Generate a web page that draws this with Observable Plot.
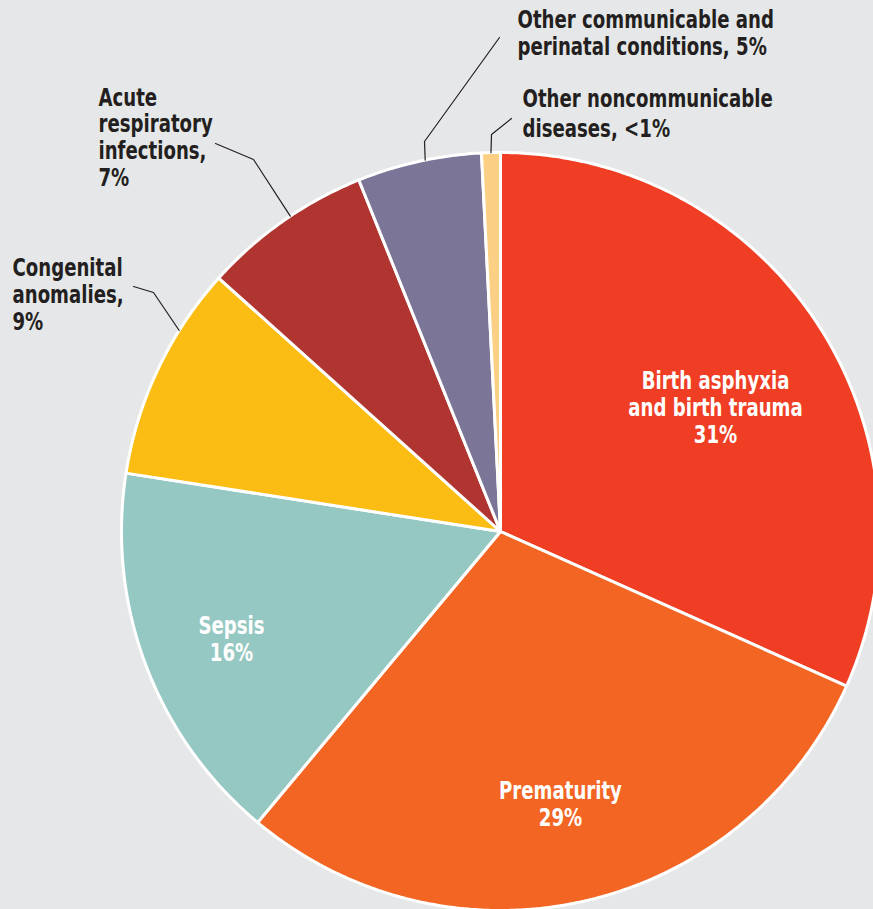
<!DOCTYPE html>
<html>
<head>
<meta charset="utf-8">
<script src="https://cdn.jsdelivr.net/npm/d3@7"></script>
<script src="https://cdn.jsdelivr.net/npm/@observablehq/plot@0.6"></script>
<style>
  html, body { margin: 0; padding: 0; background: #e6e7e8; overflow: hidden; }
  #chart svg { overflow: hidden; display: block; }
</style>
</head>
<body>
<div id="chart"></div>
<script>
// ---- data ----
const categories = [
  "Birth asphyxia and birth trauma",
  "Prematurity",
  "Sepsis",
  "Congenital anomalies",
  "Acute respiratory infections",
  "Other communicable and perinatal conditions",
  "Other noncommunicable diseases"
];
const shares = [31.7, 29.4, 16.4, 9.2, 7.25, 5.3, 0.8];
const labels = [
  "Birth asphyxia\nand birth trauma\n31%",
  "Prematurity\n29%",
  "Sepsis\n16%",
  "Congenital\nanomalies,\n9%",
  "Acute\nrespiratory\ninfections,\n7%",
  "Other communicable and\nperinatal conditions, 5%",
  "Other noncommunicable\ndiseases, <1%"
];
const colors = ["#ef3e24", "#f26522", "#96c8c3", "#fbbd14", "#b0342f", "#7b7598", "#fcd084"];

// ---- layout (annotation placement, not data) ----
const W = 873, H = 909;
const CX = 500, CY = 531, R = 379;
const FONT = "'Liberation Sans Narrow', 'DejaVu Sans Condensed', 'Arial Narrow', sans-serif";
const FS = 24, SQUEEZE = 0.84;
const labelLayout = [
  {x: 715, y: 442, anchor: "middle", fill: "white", lh: 1.125},
  {x: 560, y: 825, anchor: "middle", fill: "white", lh: 1.125},
  {x: 231, y: 660, anchor: "middle", fill: "white", lh: 1.125},
  {x: 12,  y: 329, anchor: "start", fill: "#231f20", lh: 1.125, t: 0.70, elbow: [153, 292], end: [133, 286]},
  {x: 98,  y: 185, anchor: "start", fill: "#231f20", lh: 1.11, t: 0.55, elbow: [253, 159], end: [215, 143]},
  {x: 517, y: 54,  anchor: "start", fill: "#231f20", lh: 1.09, t: 0.55, elbow: [424, 141], end: [499, 37]},
  {x: 522, y: 136, anchor: "start", fill: "#231f20", lh: 1.25, t: 0.5,  elbow: [491, 134], end: [511, 118]}
];

// ---- pie geometry from data ----
const arcs = d3.pie().sort(null).value(d => d)(shares);
const polar = (a, r) => [CX + r * Math.sin(a), CY - r * Math.cos(a)];
const slicePts = [];
arcs.forEach((a, i) => {
  const name = categories[i];
  slicePts.push({key: name, x: CX, y: CY});
  const steps = Math.max(2, Math.ceil((a.endAngle - a.startAngle) / (Math.PI / 360)));
  for (let s = 0; s <= steps; ++s) {
    const ang = a.startAngle + (a.endAngle - a.startAngle) * s / steps;
    const [x, y] = polar(ang, R);
    slicePts.push({key: name, x, y});
  }
});

const leaderPts = [];
labelLayout.forEach((L, i) => {
  if (!L.elbow) return;
  const a = arcs[i];
  const ang = a.startAngle + (a.endAngle - a.startAngle) * L.t;
  const [sx, sy] = polar(ang, R);
  leaderPts.push({key: categories[i], x: sx, y: sy});
  leaderPts.push({key: categories[i], x: L.elbow[0], y: L.elbow[1]});
  leaderPts.push({key: categories[i], x: L.end[0], y: L.end[1]});
});

const textMarks = labelLayout.map((L, i) =>
  Plot.text([{label: labels[i], x: L.x, y: L.y}], {
    x: "x", y: "y", text: "label",
    textAnchor: L.anchor, lineAnchor: "bottom", lineHeight: L.lh,
    fill: L.fill, fontSize: FS, fontWeight: "bold",
    fontFamily: FONT, className: "lbl"
  })
);

const chart = Plot.plot({
  width: W, height: H,
  margin: 0,
  x: {domain: [0, W], range: [0, W], axis: null},
  y: {domain: [0, H], range: [0, H], axis: null},
  color: {domain: categories, range: colors},
  style: {background: "#e6e7e8", fontFamily: FONT, overflow: "hidden"},
  marks: [
    Plot.line(slicePts, {x: "x", y: "y", z: "key", fill: "key", stroke: "white", strokeWidth: 3, strokeLinejoin: "round", curve: "linear-closed"}),
    Plot.line(leaderPts, {x: "x", y: "y", z: "key", stroke: "#231f20", strokeWidth: 1.2}),
    ...textMarks
  ]
});
// condensed type: narrow the label glyphs horizontally around their anchor
chart.querySelectorAll("g.lbl text").forEach(t => {
  const tr = t.getAttribute("transform") || "";
  t.setAttribute("transform", `${tr} scale(${SQUEEZE},1)`);
});
document.getElementById("chart").appendChild(chart);
</script>
</body>
</html>
